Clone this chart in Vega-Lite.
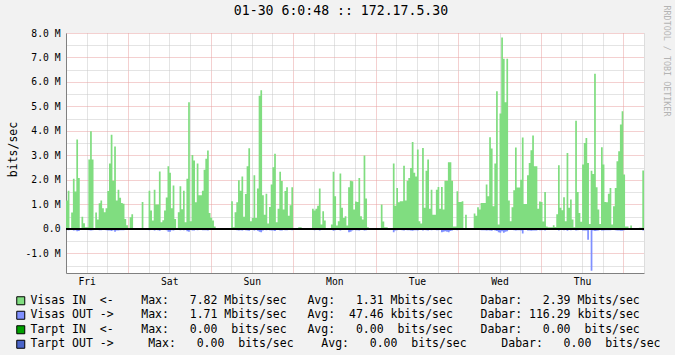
{
  "$schema": "https://vega.github.io/schema/vega-lite/v6.json",
  "width": 578,
  "height": 240,
  "autosize": "none",
  "padding": {"left": 66, "top": 33, "right": 31, "bottom": 82},
  "background": "#F2F2F2",
  "view": {"fill": "#FFFFFF", "stroke": null},
  "config": {"font": "DejaVu Sans Mono"},
  "title": {"text": "01-30 6:0:48 :: 172.17.5.30", "fontSize": 13.2, "fontWeight": "normal", "color": "#000000", "anchor": "middle", "frame": "group", "dx": -14, "offset": -13},
  "data": {"values": [
    {"t":"2009-01-23T06:00","vin":1.16,"vout":-0.04},{"t":"2009-01-23T06:30","vin":1.56,"vout":-0.05},{"t":"2009-01-23T07:00","vin":0,"vout":0},{"t":"2009-01-23T07:30","vin":0.67,"vout":-0.04},
    {"t":"2009-01-23T08:00","vin":2.05,"vout":-0.06},{"t":"2009-01-23T08:30","vin":1.53,"vout":-0.05},{"t":"2009-01-23T09:00","vin":3.65,"vout":-0.1},{"t":"2009-01-23T09:30","vin":2.08,"vout":-0.08},
    {"t":"2009-01-23T10:00","vin":0,"vout":0},{"t":"2009-01-23T10:30","vin":0.5,"vout":-0.03},{"t":"2009-01-23T11:00","vin":0.23,"vout":-0.02},{"t":"2009-01-23T11:30","vin":0.07,"vout":0},
    {"t":"2009-01-23T12:00","vin":0.07,"vout":0},{"t":"2009-01-23T12:30","vin":2.83,"vout":-0.05},{"t":"2009-01-23T13:00","vin":3.99,"vout":-0.06},{"t":"2009-01-23T13:30","vin":2.83,"vout":-0.05},
    {"t":"2009-01-23T14:00","vin":0,"vout":0},{"t":"2009-01-23T14:30","vin":0.67,"vout":-0.03},{"t":"2009-01-23T15:00","vin":0.38,"vout":-0.03},{"t":"2009-01-23T15:30","vin":1.05,"vout":-0.05},
    {"t":"2009-01-23T16:00","vin":1.16,"vout":-0.05},{"t":"2009-01-23T16:30","vin":0.84,"vout":-0.04},{"t":"2009-01-23T17:00","vin":0.68,"vout":-0.04},{"t":"2009-01-23T17:30","vin":0.84,"vout":-0.05},
    {"t":"2009-01-23T18:00","vin":1.55,"vout":-0.06},{"t":"2009-01-23T18:30","vin":2.67,"vout":-0.06},{"t":"2009-01-23T19:00","vin":3.85,"vout":-0.08},{"t":"2009-01-23T19:30","vin":1.97,"vout":-0.05},
    {"t":"2009-01-23T20:00","vin":3.37,"vout":-0.12},{"t":"2009-01-23T20:30","vin":1.16,"vout":-0.06},{"t":"2009-01-23T21:00","vin":1.6,"vout":-0.06},{"t":"2009-01-23T21:30","vin":1.27,"vout":-0.05},
    {"t":"2009-01-23T22:00","vin":1.06,"vout":-0.05},{"t":"2009-01-23T22:30","vin":1.03,"vout":-0.05},{"t":"2009-01-23T23:00","vin":0.4,"vout":-0.03},{"t":"2009-01-23T23:30","vin":0.15,"vout":-0.02},
    {"t":"2009-01-24T00:00","vin":0,"vout":0},{"t":"2009-01-24T00:30","vin":0.48,"vout":-0.03},{"t":"2009-01-24T01:00","vin":0.6,"vout":-0.03},{"t":"2009-01-24T01:30","vin":0,"vout":0},
    {"t":"2009-01-24T02:00","vin":0,"vout":0},{"t":"2009-01-24T02:30","vin":0,"vout":0},{"t":"2009-01-24T03:00","vin":0,"vout":0},{"t":"2009-01-24T03:30","vin":0,"vout":0},
    {"t":"2009-01-24T04:00","vin":1.1,"vout":-0.04},{"t":"2009-01-24T04:30","vin":0,"vout":0},{"t":"2009-01-24T05:00","vin":0,"vout":0},{"t":"2009-01-24T05:30","vin":0,"vout":0},
    {"t":"2009-01-24T06:00","vin":1.56,"vout":-0.05},{"t":"2009-01-24T06:30","vin":0.75,"vout":-0.04},{"t":"2009-01-24T07:00","vin":0.34,"vout":-0.03},{"t":"2009-01-24T07:30","vin":1.6,"vout":-0.06},
    {"t":"2009-01-24T08:00","vin":1.0,"vout":-0.04},{"t":"2009-01-24T08:30","vin":1.0,"vout":-0.05},{"t":"2009-01-24T09:00","vin":2.34,"vout":-0.07},{"t":"2009-01-24T09:30","vin":0.27,"vout":-0.03},
    {"t":"2009-01-24T10:00","vin":0.35,"vout":-0.03},{"t":"2009-01-24T10:30","vin":0.75,"vout":-0.04},{"t":"2009-01-24T11:00","vin":1.28,"vout":-0.05},{"t":"2009-01-24T11:30","vin":2.56,"vout":-0.12},
    {"t":"2009-01-24T12:00","vin":2.29,"vout":-0.12},{"t":"2009-01-24T12:30","vin":0.84,"vout":-0.05},{"t":"2009-01-24T13:00","vin":1.77,"vout":-0.06},{"t":"2009-01-24T13:30","vin":0.4,"vout":-0.03},
    {"t":"2009-01-24T14:00","vin":0,"vout":0},{"t":"2009-01-24T14:30","vin":0.68,"vout":-0.03},{"t":"2009-01-24T15:00","vin":1.74,"vout":-0.05},{"t":"2009-01-24T15:30","vin":0.8,"vout":-0.04},
    {"t":"2009-01-24T16:00","vin":1.56,"vout":-0.05},{"t":"2009-01-24T16:30","vin":0.27,"vout":-0.03},{"t":"2009-01-24T17:00","vin":2.05,"vout":-0.1},{"t":"2009-01-24T17:30","vin":5.17,"vout":-0.12},
    {"t":"2009-01-24T18:00","vin":0.31,"vout":-0.03},{"t":"2009-01-24T18:30","vin":3.02,"vout":-0.06},{"t":"2009-01-24T19:00","vin":2.79,"vout":-0.06},{"t":"2009-01-24T19:30","vin":1.09,"vout":-0.04},
    {"t":"2009-01-24T20:00","vin":2.67,"vout":-0.05},{"t":"2009-01-24T20:30","vin":1.37,"vout":-0.04},{"t":"2009-01-24T21:00","vin":1.37,"vout":-0.04},{"t":"2009-01-24T21:30","vin":1.56,"vout":-0.05},
    {"t":"2009-01-24T22:00","vin":2.42,"vout":-0.05},{"t":"2009-01-24T22:30","vin":2.87,"vout":-0.05},{"t":"2009-01-24T23:00","vin":3.2,"vout":-0.06},{"t":"2009-01-24T23:30","vin":0.65,"vout":-0.03},
    {"t":"2009-01-25T00:00","vin":0.46,"vout":-0.03},{"t":"2009-01-25T00:30","vin":0.34,"vout":-0.02},{"t":"2009-01-25T01:00","vin":0.1,"vout":-0.02},{"t":"2009-01-25T01:30","vin":0,"vout":0},
    {"t":"2009-01-25T02:00","vin":0,"vout":0},{"t":"2009-01-25T02:30","vin":0,"vout":0},{"t":"2009-01-25T03:00","vin":0,"vout":0},{"t":"2009-01-25T03:30","vin":0,"vout":0},
    {"t":"2009-01-25T04:00","vin":0,"vout":0},{"t":"2009-01-25T04:30","vin":0,"vout":0},{"t":"2009-01-25T05:00","vin":0,"vout":0},{"t":"2009-01-25T05:30","vin":0,"vout":0},
    {"t":"2009-01-25T06:00","vin":1.13,"vout":-0.04},{"t":"2009-01-25T06:30","vin":0.07,"vout":-0.02},{"t":"2009-01-25T07:00","vin":0.68,"vout":-0.04},{"t":"2009-01-25T07:30","vin":1.09,"vout":-0.05},
    {"t":"2009-01-25T08:00","vin":1.99,"vout":-0.06},{"t":"2009-01-25T08:30","vin":1.56,"vout":-0.05},{"t":"2009-01-25T09:00","vin":2.14,"vout":-0.06},{"t":"2009-01-25T09:30","vin":0.5,"vout":-0.03},
    {"t":"2009-01-25T10:00","vin":1.43,"vout":-0.05},{"t":"2009-01-25T10:30","vin":2.56,"vout":-0.06},{"t":"2009-01-25T11:00","vin":3.29,"vout":-0.07},{"t":"2009-01-25T11:30","vin":0.31,"vout":-0.03},
    {"t":"2009-01-25T12:00","vin":0.45,"vout":-0.04},{"t":"2009-01-25T12:30","vin":2.19,"vout":-0.06},{"t":"2009-01-25T13:00","vin":0.45,"vout":-0.04},{"t":"2009-01-25T13:30","vin":1.65,"vout":-0.07},
    {"t":"2009-01-25T14:00","vin":5.44,"vout":-0.12},{"t":"2009-01-25T14:30","vin":5.66,"vout":-0.14},{"t":"2009-01-25T15:00","vin":1.37,"vout":-0.06},{"t":"2009-01-25T15:30","vin":0.58,"vout":-0.04},
    {"t":"2009-01-25T16:00","vin":1.44,"vout":-0.05},{"t":"2009-01-25T16:30","vin":0.22,"vout":-0.03},{"t":"2009-01-25T17:00","vin":0.9,"vout":-0.05},{"t":"2009-01-25T17:30","vin":1.81,"vout":-0.06},
    {"t":"2009-01-25T18:00","vin":2.52,"vout":-0.06},{"t":"2009-01-25T18:30","vin":3.07,"vout":-0.08},{"t":"2009-01-25T19:00","vin":0.27,"vout":-0.03},{"t":"2009-01-25T19:30","vin":0.82,"vout":-0.04},
    {"t":"2009-01-25T20:00","vin":2.33,"vout":-0.06},{"t":"2009-01-25T20:30","vin":1.96,"vout":-0.06},{"t":"2009-01-25T21:00","vin":0.79,"vout":-0.04},{"t":"2009-01-25T21:30","vin":1.55,"vout":-0.05},
    {"t":"2009-01-25T22:00","vin":1.7,"vout":-0.05},{"t":"2009-01-25T22:30","vin":0.54,"vout":-0.03},{"t":"2009-01-25T23:00","vin":0.97,"vout":-0.04},{"t":"2009-01-25T23:30","vin":1.7,"vout":-0.05},
    {"t":"2009-01-26T00:00","vin":0,"vout":0},{"t":"2009-01-26T00:30","vin":0,"vout":0},{"t":"2009-01-26T01:00","vin":0,"vout":0},{"t":"2009-01-26T01:30","vin":0.07,"vout":-0.02},
    {"t":"2009-01-26T02:00","vin":0.07,"vout":-0.02},{"t":"2009-01-26T02:30","vin":0,"vout":0},{"t":"2009-01-26T03:00","vin":0,"vout":0},{"t":"2009-01-26T03:30","vin":0,"vout":0},
    {"t":"2009-01-26T04:00","vin":0,"vout":0},{"t":"2009-01-26T04:30","vin":0,"vout":0},{"t":"2009-01-26T05:00","vin":0,"vout":0},{"t":"2009-01-26T05:30","vin":0.82,"vout":-0.04},
    {"t":"2009-01-26T06:00","vin":0.75,"vout":-0.05},{"t":"2009-01-26T06:30","vin":0.82,"vout":-0.04},{"t":"2009-01-26T07:00","vin":0.95,"vout":-0.04},{"t":"2009-01-26T07:30","vin":1.65,"vout":-0.06},
    {"t":"2009-01-26T08:00","vin":0.18,"vout":-0.03},{"t":"2009-01-26T08:30","vin":0.72,"vout":-0.04},{"t":"2009-01-26T09:00","vin":0.34,"vout":-0.03},{"t":"2009-01-26T09:30","vin":0,"vout":0},
    {"t":"2009-01-26T10:00","vin":0,"vout":0},{"t":"2009-01-26T10:30","vin":0,"vout":0},{"t":"2009-01-26T11:00","vin":0.18,"vout":-0.02},{"t":"2009-01-26T11:30","vin":2.33,"vout":-0.07},
    {"t":"2009-01-26T12:00","vin":1.33,"vout":-0.05},{"t":"2009-01-26T12:30","vin":0.14,"vout":-0.03},{"t":"2009-01-26T13:00","vin":0.31,"vout":-0.03},{"t":"2009-01-26T13:30","vin":2.26,"vout":-0.06},
    {"t":"2009-01-26T14:00","vin":0.86,"vout":-0.04},{"t":"2009-01-26T14:30","vin":0.45,"vout":-0.03},{"t":"2009-01-26T15:00","vin":0.52,"vout":-0.03},{"t":"2009-01-26T15:30","vin":0.14,"vout":-0.02},
    {"t":"2009-01-26T16:00","vin":1.7,"vout":-0.14},{"t":"2009-01-26T16:30","vin":1.97,"vout":-0.12},{"t":"2009-01-26T17:00","vin":1.95,"vout":-0.06},{"t":"2009-01-26T17:30","vin":0.79,"vout":-0.04},
    {"t":"2009-01-26T18:00","vin":1.12,"vout":-0.05},{"t":"2009-01-26T18:30","vin":1.1,"vout":-0.05},{"t":"2009-01-26T19:00","vin":2.08,"vout":-0.06},{"t":"2009-01-26T19:30","vin":0.52,"vout":-0.04},
    {"t":"2009-01-26T20:00","vin":0.38,"vout":-0.04},{"t":"2009-01-26T20:30","vin":3.0,"vout":-0.06},{"t":"2009-01-26T21:00","vin":1.24,"vout":-0.05},{"t":"2009-01-26T21:30","vin":0.07,"vout":-0.02},
    {"t":"2009-01-26T22:00","vin":0,"vout":0},{"t":"2009-01-26T22:30","vin":0,"vout":0},{"t":"2009-01-26T23:00","vin":0,"vout":0},{"t":"2009-01-26T23:30","vin":0,"vout":0},
    {"t":"2009-01-27T00:00","vin":0,"vout":0},{"t":"2009-01-27T00:30","vin":0,"vout":0},{"t":"2009-01-27T01:00","vin":0,"vout":0},{"t":"2009-01-27T01:30","vin":1.0,"vout":-0.04},
    {"t":"2009-01-27T02:00","vin":0.3,"vout":-0.03},{"t":"2009-01-27T02:30","vin":0.07,"vout":-0.02},{"t":"2009-01-27T03:00","vin":0.07,"vout":-0.02},{"t":"2009-01-27T03:30","vin":0,"vout":0},
    {"t":"2009-01-27T04:00","vin":0,"vout":0},{"t":"2009-01-27T04:30","vin":0,"vout":0},{"t":"2009-01-27T05:00","vin":2.67,"vout":-0.14},{"t":"2009-01-27T05:30","vin":0.95,"vout":-0.06},
    {"t":"2009-01-27T06:00","vin":1.67,"vout":-0.05},{"t":"2009-01-27T06:30","vin":1.09,"vout":-0.04},{"t":"2009-01-27T07:00","vin":1.13,"vout":-0.04},{"t":"2009-01-27T07:30","vin":1.13,"vout":-0.05},
    {"t":"2009-01-27T08:00","vin":2.58,"vout":-0.06},{"t":"2009-01-27T08:30","vin":1.16,"vout":-0.04},{"t":"2009-01-27T09:00","vin":1.97,"vout":-0.05},{"t":"2009-01-27T09:30","vin":2.08,"vout":-0.05},
    {"t":"2009-01-27T10:00","vin":2.49,"vout":-0.06},{"t":"2009-01-27T10:30","vin":3.55,"vout":-0.07},{"t":"2009-01-27T11:00","vin":2.29,"vout":-0.05},{"t":"2009-01-27T11:30","vin":2.14,"vout":-0.05},
    {"t":"2009-01-27T12:00","vin":3.24,"vout":-0.06},{"t":"2009-01-27T12:30","vin":0.31,"vout":-0.03},{"t":"2009-01-27T13:00","vin":0.22,"vout":-0.03},{"t":"2009-01-27T13:30","vin":3.3,"vout":-0.06},
    {"t":"2009-01-27T14:00","vin":0.86,"vout":-0.04},{"t":"2009-01-27T14:30","vin":2.38,"vout":-0.05},{"t":"2009-01-27T15:00","vin":2.83,"vout":-0.06},{"t":"2009-01-27T15:30","vin":0.82,"vout":-0.03},
    {"t":"2009-01-27T16:00","vin":1.6,"vout":-0.05},{"t":"2009-01-27T16:30","vin":0.58,"vout":-0.04},{"t":"2009-01-27T17:00","vin":0.58,"vout":-0.04},{"t":"2009-01-27T17:30","vin":1.6,"vout":-0.05},
    {"t":"2009-01-27T18:00","vin":1.71,"vout":-0.05},{"t":"2009-01-27T18:30","vin":0.82,"vout":-0.04},{"t":"2009-01-27T19:00","vin":1.71,"vout":-0.14},{"t":"2009-01-27T19:30","vin":0.79,"vout":-0.12},
    {"t":"2009-01-27T20:00","vin":1.97,"vout":-0.1},{"t":"2009-01-27T20:30","vin":1.97,"vout":-0.12},{"t":"2009-01-27T21:00","vin":2.72,"vout":-0.14},{"t":"2009-01-27T21:30","vin":2.72,"vout":-0.08},
    {"t":"2009-01-27T22:00","vin":1.97,"vout":-0.06},{"t":"2009-01-27T22:30","vin":0.1,"vout":-0.02},{"t":"2009-01-27T23:00","vin":0.1,"vout":-0.02},{"t":"2009-01-27T23:30","vin":1.54,"vout":-0.05},
    {"t":"2009-01-28T00:00","vin":1.1,"vout":-0.04},{"t":"2009-01-28T00:30","vin":1.1,"vout":-0.04},{"t":"2009-01-28T01:00","vin":1.13,"vout":-0.04},{"t":"2009-01-28T01:30","vin":0,"vout":0},
    {"t":"2009-01-28T02:00","vin":0.58,"vout":-0.03},{"t":"2009-01-28T02:30","vin":0,"vout":0},{"t":"2009-01-28T03:00","vin":0,"vout":0},{"t":"2009-01-28T03:30","vin":0,"vout":0},
    {"t":"2009-01-28T04:00","vin":0,"vout":0},{"t":"2009-01-28T04:30","vin":0.63,"vout":-0.04},{"t":"2009-01-28T05:00","vin":0.54,"vout":-0.04},{"t":"2009-01-28T05:30","vin":0.88,"vout":-0.04},
    {"t":"2009-01-28T06:00","vin":0.79,"vout":-0.04},{"t":"2009-01-28T06:30","vin":1.06,"vout":-0.05},{"t":"2009-01-28T07:00","vin":1.06,"vout":-0.05},{"t":"2009-01-28T07:30","vin":1.06,"vout":-0.05},
    {"t":"2009-01-28T08:00","vin":1.81,"vout":-0.06},{"t":"2009-01-28T08:30","vin":1.33,"vout":-0.05},{"t":"2009-01-28T09:00","vin":3.74,"vout":-0.06},{"t":"2009-01-28T09:30","vin":3.28,"vout":-0.07},
    {"t":"2009-01-28T10:00","vin":0.93,"vout":-0.04},{"t":"2009-01-28T10:30","vin":2.67,"vout":-0.06},{"t":"2009-01-28T11:00","vin":5.62,"vout":-0.08},{"t":"2009-01-28T11:30","vin":0.18,"vout":-0.14},
    {"t":"2009-01-28T12:00","vin":4.71,"vout":-0.16},{"t":"2009-01-28T12:30","vin":7.82,"vout":-0.1},{"t":"2009-01-28T13:00","vin":6.95,"vout":-0.16},{"t":"2009-01-28T13:30","vin":5.17,"vout":-0.12},
    {"t":"2009-01-28T14:00","vin":6.95,"vout":-0.1},{"t":"2009-01-28T14:30","vin":1.16,"vout":-0.04},{"t":"2009-01-28T15:00","vin":0.31,"vout":-0.03},{"t":"2009-01-28T15:30","vin":0.88,"vout":-0.04},
    {"t":"2009-01-28T16:00","vin":1.58,"vout":-0.05},{"t":"2009-01-28T16:30","vin":3.32,"vout":-0.06},{"t":"2009-01-28T17:00","vin":1.69,"vout":-0.05},{"t":"2009-01-28T17:30","vin":1.69,"vout":-0.05},
    {"t":"2009-01-28T18:00","vin":2.01,"vout":-0.06},{"t":"2009-01-28T18:30","vin":3.73,"vout":-0.19},{"t":"2009-01-28T19:00","vin":1.02,"vout":-0.04},{"t":"2009-01-28T19:30","vin":1.02,"vout":-0.04},
    {"t":"2009-01-28T20:00","vin":2.19,"vout":-0.06},{"t":"2009-01-28T20:30","vin":2.69,"vout":-0.06},{"t":"2009-01-28T21:00","vin":3.21,"vout":-0.07},{"t":"2009-01-28T21:30","vin":3.81,"vout":-0.06},
    {"t":"2009-01-28T22:00","vin":2.56,"vout":-0.06},{"t":"2009-01-28T22:30","vin":2.56,"vout":-0.06},{"t":"2009-01-28T23:00","vin":0.82,"vout":-0.04},{"t":"2009-01-28T23:30","vin":1.12,"vout":-0.05},
    {"t":"2009-01-29T00:00","vin":1.1,"vout":-0.05},{"t":"2009-01-29T00:30","vin":0.3,"vout":-0.03},{"t":"2009-01-29T01:00","vin":1.51,"vout":-0.06},{"t":"2009-01-29T01:30","vin":0.1,"vout":-0.02},
    {"t":"2009-01-29T02:00","vin":0.07,"vout":-0.02},{"t":"2009-01-29T02:30","vin":0.07,"vout":-0.02},{"t":"2009-01-29T03:00","vin":0.07,"vout":-0.02},{"t":"2009-01-29T03:30","vin":0.15,"vout":-0.03},
    {"t":"2009-01-29T04:00","vin":0.08,"vout":-0.02},{"t":"2009-01-29T04:30","vin":0.6,"vout":-0.04},{"t":"2009-01-29T05:00","vin":2.6,"vout":-0.06},{"t":"2009-01-29T05:30","vin":0.86,"vout":-0.04},
    {"t":"2009-01-29T06:00","vin":0.76,"vout":-0.04},{"t":"2009-01-29T06:30","vin":1.29,"vout":-0.05},{"t":"2009-01-29T07:00","vin":0.31,"vout":-0.03},{"t":"2009-01-29T07:30","vin":3.1,"vout":-0.07},
    {"t":"2009-01-29T08:00","vin":0.86,"vout":-0.04},{"t":"2009-01-29T08:30","vin":1.2,"vout":-0.05},{"t":"2009-01-29T09:00","vin":0.38,"vout":-0.03},{"t":"2009-01-29T09:30","vin":0.07,"vout":-0.02},
    {"t":"2009-01-29T10:00","vin":4.42,"vout":-0.06},{"t":"2009-01-29T10:30","vin":1.51,"vout":-0.05},{"t":"2009-01-29T11:00","vin":0.65,"vout":-0.04},{"t":"2009-01-29T11:30","vin":0.29,"vout":-0.03},
    {"t":"2009-01-29T12:00","vin":2.63,"vout":-0.06},{"t":"2009-01-29T12:30","vin":3.51,"vout":-0.06},{"t":"2009-01-29T13:00","vin":3.71,"vout":-0.06},{"t":"2009-01-29T13:30","vin":2.69,"vout":-0.44},
    {"t":"2009-01-29T14:00","vin":0.2,"vout":-0.03},{"t":"2009-01-29T14:30","vin":2.38,"vout":-1.71},{"t":"2009-01-29T15:00","vin":2.24,"vout":-0.06},{"t":"2009-01-29T15:30","vin":6.34,"vout":-0.08},
    {"t":"2009-01-29T16:00","vin":1.7,"vout":-0.07},{"t":"2009-01-29T16:30","vin":0.79,"vout":-0.06},{"t":"2009-01-29T17:00","vin":0.2,"vout":-0.03},{"t":"2009-01-29T17:30","vin":3.33,"vout":-0.06},
    {"t":"2009-01-29T18:00","vin":2.63,"vout":-0.06},{"t":"2009-01-29T18:30","vin":1.1,"vout":-0.05},{"t":"2009-01-29T19:00","vin":1.09,"vout":-0.05},{"t":"2009-01-29T19:30","vin":1.44,"vout":-0.05},
    {"t":"2009-01-29T20:00","vin":1.67,"vout":-0.05},{"t":"2009-01-29T20:30","vin":0.18,"vout":-0.03},{"t":"2009-01-29T21:00","vin":0.93,"vout":-0.04},{"t":"2009-01-29T21:30","vin":1.67,"vout":-0.05},
    {"t":"2009-01-29T22:00","vin":2.76,"vout":-0.06},{"t":"2009-01-29T22:30","vin":3.17,"vout":-0.06},{"t":"2009-01-29T23:00","vin":4.26,"vout":-0.07},{"t":"2009-01-29T23:30","vin":4.8,"vout":-0.07},
    {"t":"2009-01-30T00:00","vin":2.22,"vout":-0.05},{"t":"2009-01-30T00:30","vin":0.1,"vout":-0.02},{"t":"2009-01-30T01:00","vin":0.1,"vout":-0.02},{"t":"2009-01-30T01:30","vin":0,"vout":0},
    {"t":"2009-01-30T02:00","vin":0.14,"vout":-0.02},{"t":"2009-01-30T02:30","vin":0,"vout":0},{"t":"2009-01-30T03:00","vin":0,"vout":0},{"t":"2009-01-30T03:30","vin":0,"vout":0},
    {"t":"2009-01-30T04:00","vin":0,"vout":0},{"t":"2009-01-30T04:30","vin":0.05,"vout":-0.02},{"t":"2009-01-30T05:00","vin":0.05,"vout":-0.02},{"t":"2009-01-30T05:30","vin":2.39,"vout":-0.06},
    {"t":"2009-01-30T06:00","vin":2.39,"vout":-0.06}
  ]},
  "layer": [
    {
      "mark": {"type": "area", "interpolate": "step-after", "color": "#80DD80"},
      "encoding": {
        "x": {"field": "t", "type": "temporal",
          "scale": {"nice": false},
          "axis": {"tickCount": 28,
            "labelExpr": "hours(datum.value) == 12 ? timeFormat(datum.value, '%a') : ''",
            "labelFontSize": 9.7, "labelColor": "#000000", "labelPadding": 3, "labelFlush": false, "labelOverlap": false,
            "ticks": false, "domain": true, "domainColor": "#808080", "domainWidth": 1,
            "grid": true, "gridDash": [1, 1], "gridOpacity": 1,
            "gridColor": {"condition": {"test": "hours(datum.value) == 0", "value": "#E8A0A0"}, "value": "#C8C8C8"},
            "title": "RRDTOOL / TOBI OETIKER", "titleFontSize": 8.4, "titleFontWeight": "normal", "titleColor": "#B4B4B4",
            "titleAngle": 90, "titleX": 600, "titleY": -268, "titleAlign": "left", "titleBaseline": "middle"}},
        "y": {"field": "vin", "type": "quantitative",
          "scale": {"domain": [-1.8, 8], "nice": false, "zero": false},
          "axis": {"values": [-1.5, -1, -0.5, 0, 0.5, 1, 1.5, 2, 2.5, 3, 3.5, 4, 4.5, 5, 5.5, 6, 6.5, 7, 7.5, 8],
            "tickCount": 100,
            "labelExpr": "floor(datum.value) != datum.value ? '' : datum.value == 0 ? '0.0' : (datum.value < 0 ? '-' : '') + format(abs(datum.value), '.1f') + ' M'",
            "labelFontSize": 9.7, "labelColor": "#000000", "labelPadding": 6, "labelOverlap": false,
            "ticks": false, "domain": true, "domainColor": "#808080", "domainWidth": 1,
            "grid": true, "gridDash": [1, 1], "gridOpacity": 1,
            "gridColor": {"condition": {"test": "floor(datum.value) == datum.value", "value": "#E8A0A0"}, "value": "#C8C8C8"},
            "title": "bits/sec", "titleFontSize": 11.5, "titleFontWeight": "normal", "titleColor": "#000000",
            "titleX": -52.5, "titleY": 116, "titleAngle": -90, "titleAlign": "center", "titleBaseline": "middle"}}
      }
    },
    {
      "mark": {"type": "area", "interpolate": "step-after", "color": "#8090FF"},
      "encoding": {
        "x": {"field": "t", "type": "temporal"},
        "y": {"field": "vout", "type": "quantitative"}
      }
    },
    {
      "mark": {"type": "rule", "color": "#000000", "strokeWidth": 2},
      "encoding": {"y": {"datum": 0, "type": "quantitative"}}
    },
    {
      "data": {"values": [
        {"s": "Visas\u00a0IN\u00a0\u00a0<-\u00a0\u00a0\u00a0\u00a0Max:\u00a0\u00a0\u00a07.82\u00a0Mbits/sec\u00a0\u00a0\u00a0Avg:\u00a0\u00a0\u00a01.31\u00a0Mbits/sec\u00a0\u00a0\u00a0\u00a0Dabar:\u00a0\u00a0\u00a02.39\u00a0Mbits/sec"},
        {"s": "Visas\u00a0OUT\u00a0->\u00a0\u00a0\u00a0\u00a0Max:\u00a0\u00a0\u00a01.71\u00a0Mbits/sec\u00a0\u00a0\u00a0Avg:\u00a0\u00a047.46\u00a0kbits/sec\u00a0\u00a0\u00a0\u00a0Dabar:\u00a0116.29\u00a0kbits/sec"},
        {"s": "Tarpt\u00a0IN\u00a0\u00a0<-\u00a0\u00a0\u00a0\u00a0Max:\u00a0\u00a0\u00a00.00\u00a0\u00a0bits/sec\u00a0\u00a0\u00a0Avg:\u00a0\u00a0\u00a00.00\u00a0\u00a0bits/sec\u00a0\u00a0\u00a0\u00a0Dabar:\u00a0\u00a0\u00a00.00\u00a0\u00a0bits/sec"},
        {"s": "Tarpt\u00a0OUT\u00a0->\u00a0\u00a0\u00a0\u00a0\u00a0Max:\u00a0\u00a0\u00a00.00\u00a0\u00a0bits/sec\u00a0\u00a0\u00a0\u00a0Avg:\u00a0\u00a0\u00a00.00\u00a0\u00a0bits/sec\u00a0\u00a0\u00a0\u00a0\u00a0Dabar:\u00a0\u00a0\u00a00.00\u00a0\u00a0bits/sec"}
      ]},
      "transform": [{"filter": "false"}],
      "mark": {"type": "square", "stroke": "#000000", "strokeWidth": 1, "opacity": 1},
      "encoding": {
        "color": {"field": "s", "type": "nominal",
          "scale": {"domain": [
            "Visas\u00a0IN\u00a0\u00a0<-\u00a0\u00a0\u00a0\u00a0Max:\u00a0\u00a0\u00a07.82\u00a0Mbits/sec\u00a0\u00a0\u00a0Avg:\u00a0\u00a0\u00a01.31\u00a0Mbits/sec\u00a0\u00a0\u00a0\u00a0Dabar:\u00a0\u00a0\u00a02.39\u00a0Mbits/sec",
            "Visas\u00a0OUT\u00a0->\u00a0\u00a0\u00a0\u00a0Max:\u00a0\u00a0\u00a01.71\u00a0Mbits/sec\u00a0\u00a0\u00a0Avg:\u00a0\u00a047.46\u00a0kbits/sec\u00a0\u00a0\u00a0\u00a0Dabar:\u00a0116.29\u00a0kbits/sec",
            "Tarpt\u00a0IN\u00a0\u00a0<-\u00a0\u00a0\u00a0\u00a0Max:\u00a0\u00a0\u00a00.00\u00a0\u00a0bits/sec\u00a0\u00a0\u00a0Avg:\u00a0\u00a0\u00a00.00\u00a0\u00a0bits/sec\u00a0\u00a0\u00a0\u00a0Dabar:\u00a0\u00a0\u00a00.00\u00a0\u00a0bits/sec",
            "Tarpt\u00a0OUT\u00a0->\u00a0\u00a0\u00a0\u00a0\u00a0Max:\u00a0\u00a0\u00a00.00\u00a0\u00a0bits/sec\u00a0\u00a0\u00a0\u00a0Avg:\u00a0\u00a0\u00a00.00\u00a0\u00a0bits/sec\u00a0\u00a0\u00a0\u00a0\u00a0Dabar:\u00a0\u00a0\u00a00.00\u00a0\u00a0bits/sec"],
            "range": ["#80DD80", "#8090FF", "#00A000", "#4A64C8"]},
          "legend": {"orient": "none", "legendX": -51, "legendY": 262, "title": null, "padding": 0,
            "symbolType": "square", "symbolSize": 64, "symbolStrokeColor": "#000000", "symbolStrokeWidth": 1, "symbolOpacity": 1,
            "labelFontSize": 11.5, "labelColor": "#000000", "labelOffset": 4, "labelLimit": 1000, "rowPadding": 1.5}}
      }
    }
  ]
}
